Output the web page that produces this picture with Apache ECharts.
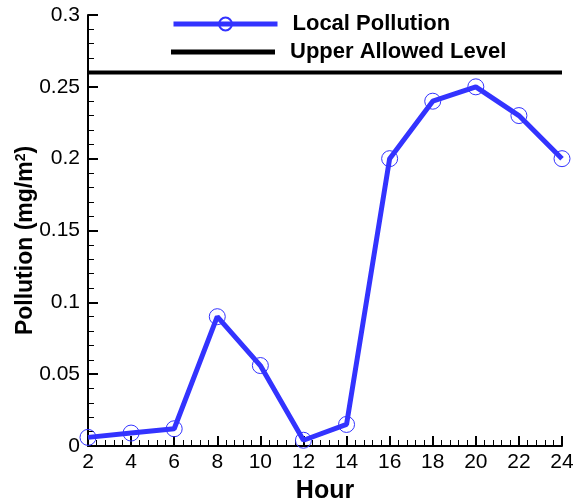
<!DOCTYPE html>
<html>
<head>
<meta charset="utf-8">
<script src="https://cdn.jsdelivr.net/npm/echarts@6/dist/echarts.min.js"></script>
<style>
html, body { margin: 0; padding: 0; background: #fff; }
#main { width: 573px; height: 502px; }
</style>
</head>
<body>
<div id="main"></div>
<script>
// 数据
var hours = [2, 4, 6, 8, 10, 12, 14, 16, 18, 20, 22, 24];
var pollution = [0.006, 0.009, 0.012, 0.09, 0.056, 0.004, 0.015, 0.2, 0.24, 0.25, 0.23, 0.2];
var upperLevel = 0.26;
var seriesNames = ['Local Pollution', 'Upper Allowed Level'];

var myChart = echarts.init(document.getElementById('main'));
var fontFam = 'Liberation Sans, Arial, sans-serif';
var legendText = { fontFamily: fontFam, fontWeight: 'bold', fontSize: 22, color: '#000', padding: [0, 0, 0, 10] };

var option = {
    animation: false,
    backgroundColor: '#fff',
    grid: { left: 88, right: 11, top: 15, bottom: 56, outerBoundsMode: 'none', containLabel: false },
    legend: [{
        left: 166,
        top: 8,
        itemWidth: 104,
        itemHeight: 16,
        data: [seriesNames[0]],
        lineStyle: { width: 5 },
        textStyle: legendText
    }, {
        left: 166,
        top: 36,
        itemWidth: 104,
        itemHeight: 5,
        data: [{ name: seriesNames[1], icon: 'rect' }],
        textStyle: legendText
    }],
    xAxis: {
        type: 'value',
        min: 2,
        max: 24,
        interval: 2,
        name: 'Hour',
        nameLocation: 'middle',
        nameGap: 33,
        nameMoveOverlap: false,
        nameTextStyle: { fontFamily: fontFam, fontWeight: 'bold', fontSize: 25, color: '#000' },
        axisLine: { show: true, lineStyle: { color: '#000', width: 2 } },
        axisTick: { show: true, inside: true, length: 10, lineStyle: { color: '#000', width: 2 } },
        minorTick: { show: true, splitNumber: 5, length: 6, lineStyle: { color: '#000', width: 1 } },
        axisLabel: { fontFamily: fontFam, fontSize: 21, color: '#000', margin: 6 },
        splitLine: { show: false }
    },
    yAxis: {
        type: 'value',
        min: 0,
        max: 0.3,
        interval: 0.05,
        name: 'Pollution (mg/m{sup|2})',
        nameLocation: 'middle',
        nameGap: 50,
        nameMoveOverlap: false,
        nameTextStyle: {
            fontFamily: fontFam, fontWeight: 'bold', fontSize: 23, color: '#000',
            padding: [0, 20, 0, 0],
            rich: { sup: { fontFamily: fontFam, fontSize: 14, fontWeight: 'bold', color: '#000', verticalAlign: 'top', padding: [0, 0, 10, 0] } }
        },
        axisLine: { show: true, lineStyle: { color: '#000', width: 2 } },
        axisTick: { show: true, inside: true, length: 10, lineStyle: { color: '#000', width: 2 } },
        minorTick: { show: true, splitNumber: 5, length: 6, lineStyle: { color: '#000', width: 1 } },
        axisLabel: { fontFamily: fontFam, fontSize: 21, color: '#000', margin: 8 },
        splitLine: { show: false }
    },
    series: [{
        name: seriesNames[0],
        type: 'line',
        data: hours.map(function (h, i) { return [h, pollution[i]]; }),
        symbol: 'circle',
        symbolSize: 16,
        lineStyle: { color: '#3333ff', width: 5 },
        itemStyle: { color: 'rgba(0,0,0,0)', borderColor: '#3333ff', borderWidth: 1 },
        z: 3
    }, {
        name: seriesNames[1],
        type: 'line',
        data: [[hours[0], upperLevel], [hours[hours.length - 1], upperLevel]],
        symbol: 'none',
        lineStyle: { color: '#000', width: 4 },
        itemStyle: { color: '#000' },
        z: 2
    }]
};
myChart.setOption(option);
</script>
</body>
</html>
